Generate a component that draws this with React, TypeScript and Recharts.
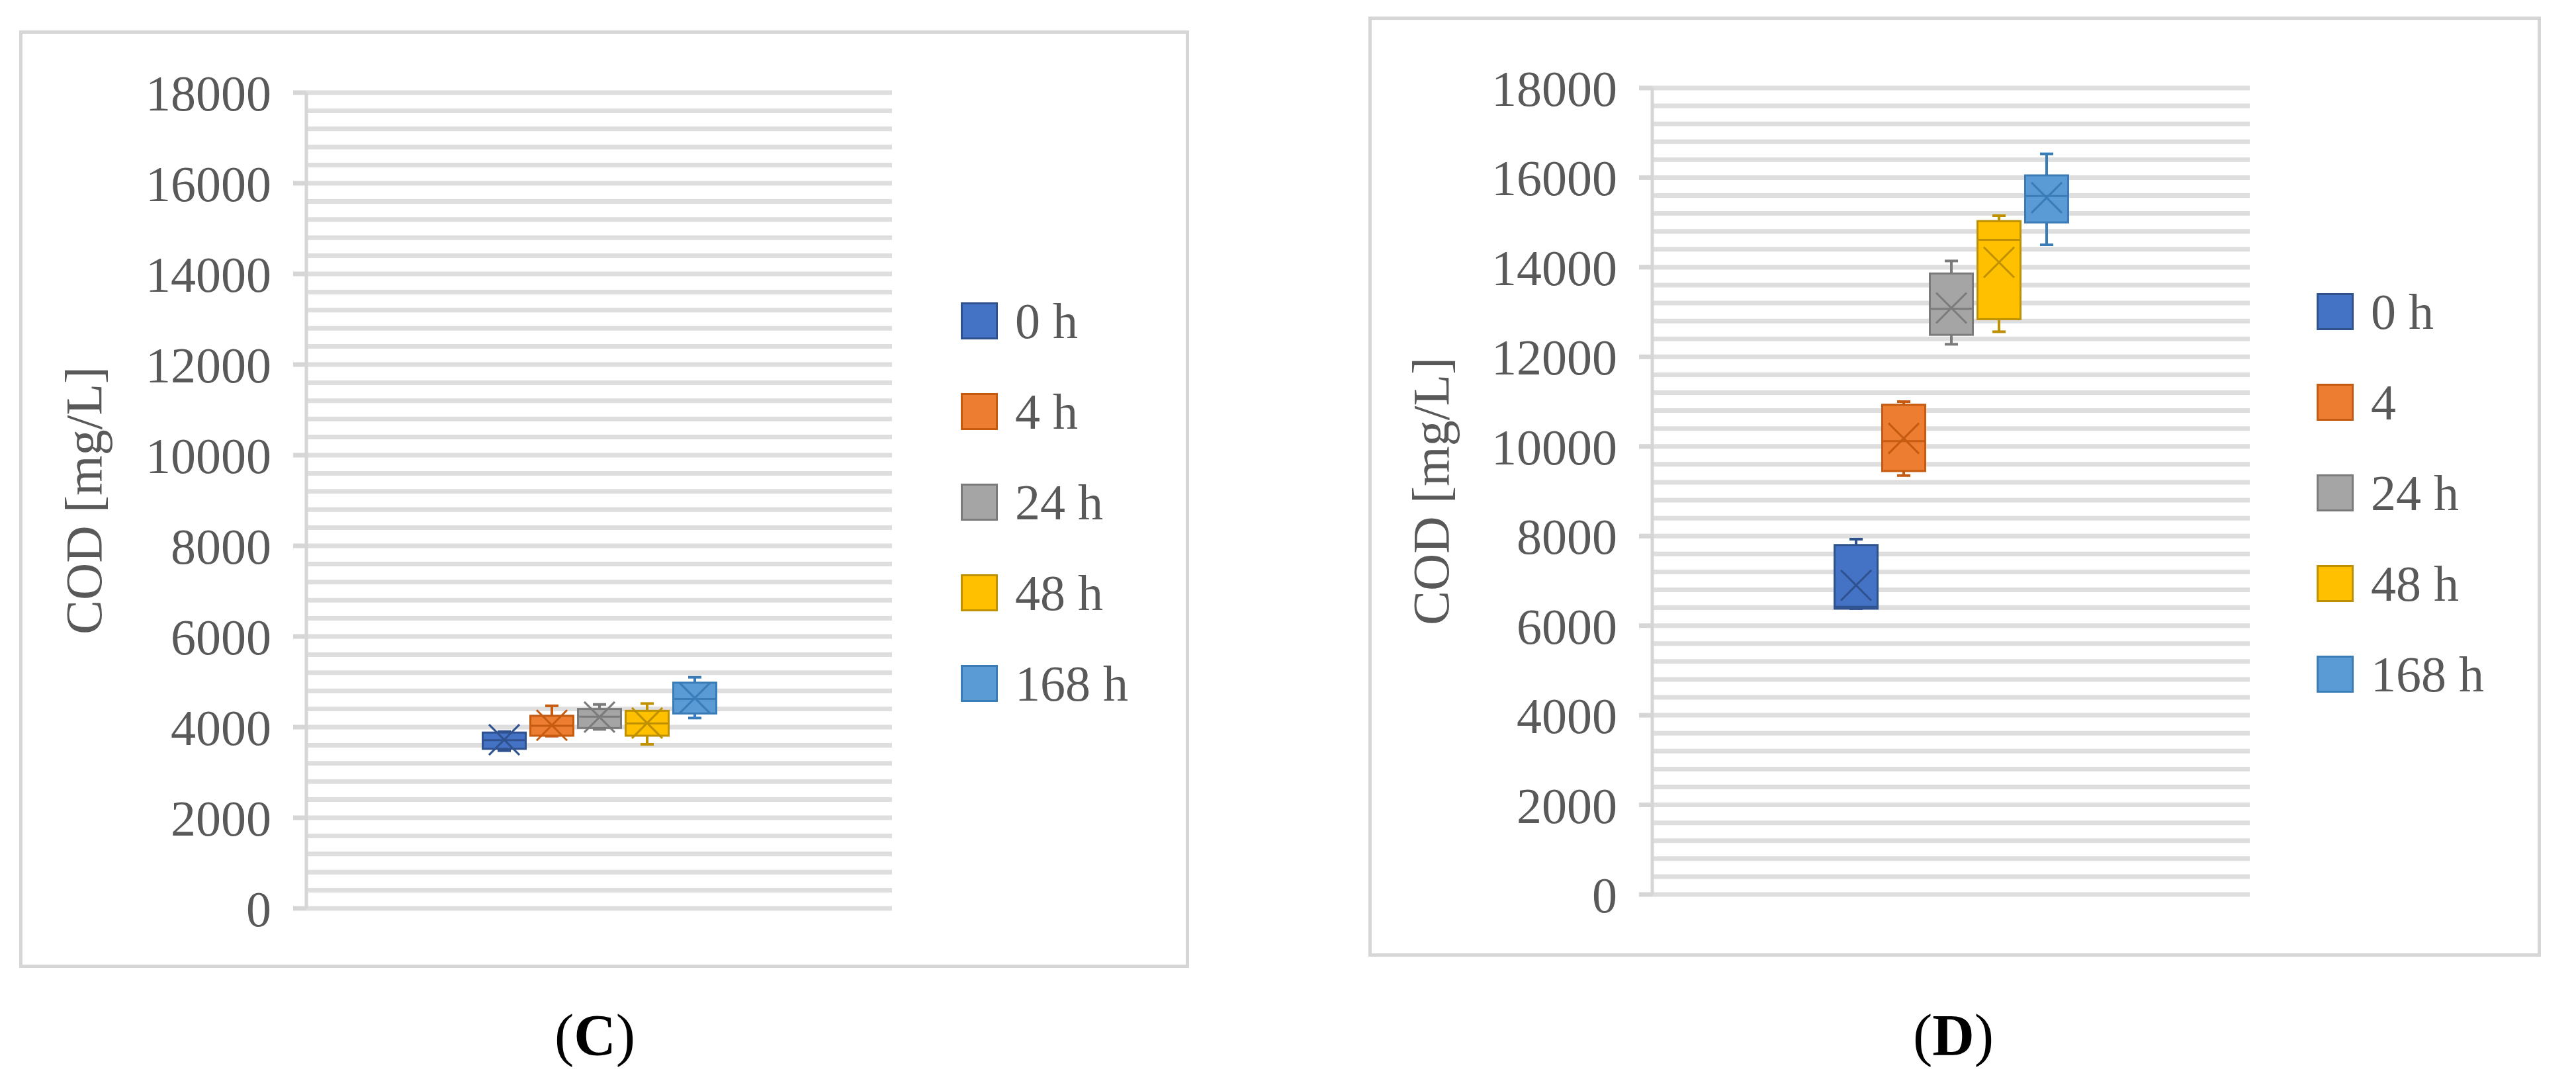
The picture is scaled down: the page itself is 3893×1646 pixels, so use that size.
import React from 'react';
import { ComposedChart, Bar, XAxis, YAxis, CartesianGrid, Legend, Label } from 'recharts';

// series names (panel D writes the second one as plain "4")
const SERIES_C = ['0 h', '4 h', '24 h', '48 h', '168 h'];
const SERIES_D = ['0 h', '4', '24 h', '48 h', '168 h'];

const COLORS = ['#4472C4', '#ED7D31', '#A5A5A5', '#FFC000', '#5B9BD5'];
const EDGES = ['#2F528F', '#C55A11', '#7B7B7B', '#BF9000', '#3A7CB8'];

const Y_LABELS = [0, 2000, 4000, 6000, 8000, 10000, 12000, 14000, 16000, 18000];
const Y_MAX = 18000;
const GRID_STEP = 400;

// panel C box stats
const C_MIN = [3480, 3800, 3950, 3620, 4200];
const C_Q1 = [3520, 3810, 3980, 3810, 4300];
const C_MED = [3710, 4030, 4230, 4080, 4620];
const C_Q3 = [3880, 4250, 4400, 4360, 4980];
const C_MAX = [3900, 4470, 4500, 4520, 5100];
const C_MEAN = [3720, 4040, 4220, 4090, 4640];

// panel D box stats
const D_MIN = [6380, 9350, 12280, 12560, 14500];
const D_Q1 = [6380, 9450, 12490, 12840, 15000];
const D_MED = [6420, 10120, 13070, 14610, 15590];
const D_Q3 = [7800, 10930, 13860, 15030, 16050];
const D_MAX = [7930, 11000, 14140, 15150, 16530];
const D_MEAN = [6900, 10180, 13090, 14110, 15550];

const FONT = '"Liberation Serif", "Times New Roman", serif';
const TEXT = '#595959';
const GRID = '#dedede';
const AXIS = '#d6d6d6';

const gridTicks = Array.from({ length: Y_MAX / GRID_STEP + 1 }, (_, k) => k * GRID_STEP);

type Stats = { min: number[]; q1: number[]; med: number[]; q3: number[]; max: number[]; mean: number[] };

const makeBox = (s: Stats, i: number) => (props: any) => {
  const { x, y, width, height } = props;
  if (x == null || y == null) return null;
  const lo = s.min[i];
  const hi = s.max[i];
  const top = Math.min(y, y + height);
  const h = Math.abs(height);
  const py = (v: number) => top + ((hi - v) / (hi - lo)) * h;
  const cx = x + width / 2;
  const edge = EDGES[i];
  const cap = 10;
  const m = 23;
  const my = py(s.mean[i]);
  return (
    <g>
      <line x1={cx} x2={cx} y1={py(hi)} y2={py(s.q3[i])} stroke={edge} strokeWidth={4} />
      <line x1={cx - cap} x2={cx + cap} y1={py(hi)} y2={py(hi)} stroke={edge} strokeWidth={4} />
      <line x1={cx} x2={cx} y1={py(s.q1[i])} y2={py(lo)} stroke={edge} strokeWidth={4} />
      <line x1={cx - cap} x2={cx + cap} y1={py(lo)} y2={py(lo)} stroke={edge} strokeWidth={4} />
      <rect
        x={x + 1.5}
        y={py(s.q3[i])}
        width={width - 3}
        height={Math.max(py(s.q1[i]) - py(s.q3[i]), 1)}
        fill={COLORS[i]}
        stroke={edge}
        strokeWidth={3}
      />
      <line x1={x + 1.5} x2={x + width - 1.5} y1={py(s.med[i])} y2={py(s.med[i])} stroke={edge} strokeWidth={3} />
      <line x1={cx - m} x2={cx + m} y1={my - m} y2={my + m} stroke={edge} strokeWidth={3} />
      <line x1={cx - m} x2={cx + m} y1={my + m} y2={my - m} stroke={edge} strokeWidth={3} />
    </g>
  );
};

const YTick = (props: any) => {
  const { x, y, payload } = props;
  if (!Y_LABELS.includes(payload.value)) return null;
  return (
    <g>
      <line x1={x - 20} x2={x} y1={y} y2={y} stroke={AXIS} strokeWidth={7} />
      <text x={x - 53} y={y} dy={27} textAnchor="end" fontFamily={FONT} fontSize={76} fill={TEXT}>
        {payload.value}
      </text>
    </g>
  );
};

const LEGEND_W = 320;

interface PanelProps {
  left: number;
  top: number;
  width: number;
  height: number;
  plotLeft: number;
  plotRight: number;
  plotTop: number;
  plotBottom: number;
  legendX: number;
  legendTop: number;
  labelX: number;
  names: string[];
  stats: Stats;
}

const Panel: React.FC<PanelProps> = (p) => {
  const row: any = { group: 'COD' };
  p.names.forEach((_, i) => {
    row[`s${i}`] = [p.stats.min[i], p.stats.max[i]];
  });
  const data = [row];

  const renderLegend = (lp: any) => (
    <div>
      {(lp.payload || []).map((entry: any, i: number) => (
        <div key={entry.value} style={{ height: 137, display: 'flex', alignItems: 'center' }}>
          <div
            style={{
              width: 56,
              height: 56,
              boxSizing: 'border-box',
              background: COLORS[i],
              border: `3px solid ${EDGES[i]}`,
            }}
          />
          <span style={{ marginLeft: 26, fontFamily: FONT, fontSize: 76, color: TEXT, lineHeight: 1 }}>
            {entry.value}
          </span>
        </div>
      ))}
    </div>
  );

  return (
    <div style={{ position: 'absolute', left: p.left, top: p.top, width: p.width, height: p.height }}>
      <div
        style={{
          position: 'absolute',
          inset: 0,
          border: `5px solid ${AXIS}`,
          boxSizing: 'border-box',
          background: '#fff',
        }}
      />
      <div style={{ position: 'absolute', left: 0, top: 0 }}>
        <ComposedChart
          width={p.width}
          height={p.height}
          data={data}
          barGap={4}
          margin={{
            top: p.plotTop,
            left: 0,
            right: p.width - p.plotRight - LEGEND_W,
            bottom: p.height - p.plotBottom,
          }}
        >
          <CartesianGrid vertical={false} stroke={GRID} strokeWidth={7} />
          <XAxis dataKey="group" hide />
          <YAxis
            type="number"
            domain={[0, Y_MAX]}
            ticks={gridTicks}
            interval={0}
            width={p.plotLeft}
            tickSize={0}
            tickMargin={0}
            tickLine={false}
            axisLine={{ stroke: AXIS, strokeWidth: 5 }}
            tick={<YTick />}
          >
            <Label
              content={(lp: any) => {
                const vb = lp.viewBox || {};
                const cy = vb.y + vb.height / 2;
                return (
                  <text
                    x={p.labelX}
                    y={cy}
                    transform={`rotate(-90, ${p.labelX}, ${cy})`}
                    textAnchor="middle"
                    dominantBaseline="central"
                    fontFamily={FONT}
                    fontSize={78}
                    fill={TEXT}
                  >
                    COD [mg/L]
                  </text>
                );
              }}
            />
          </YAxis>
          <Legend
            layout="vertical"
            align="right"
            verticalAlign="top"
            itemSorter="dataKey"
            content={renderLegend}
            wrapperStyle={{ left: p.legendX, top: p.legendTop, width: LEGEND_W }}
          />
          {p.names.map((n, i) => (
            <Bar
              key={n}
              name={n}
              dataKey={`s${i}`}
              fill={COLORS[i]}
              barSize={68}
              isAnimationActive={false}
              shape={makeBox(p.stats, i)}
            />
          ))}
        </ComposedChart>
      </div>
    </div>
  );
};

const captionStyle: React.CSSProperties = {
  position: 'absolute',
  top: 1510,
  width: 400,
  textAlign: 'center',
  fontFamily: FONT,
  fontSize: 88,
  color: '#000',
  lineHeight: '110px',
};

export default function App() {
  const statsC: Stats = { min: C_MIN, q1: C_Q1, med: C_MED, q3: C_Q3, max: C_MAX, mean: C_MEAN };
  const statsD: Stats = { min: D_MIN, q1: D_Q1, med: D_MED, q3: D_Q3, max: D_MAX, mean: D_MEAN };
  return (
    <div style={{ position: 'absolute', left: 0, top: 0, width: 3893, height: 1646, background: '#fff' }}>
      <Panel
        left={29}
        top={46}
        width={1768}
        height={1417}
        plotLeft={434}
        plotRight={1319}
        plotTop={94}
        plotBottom={1327}
        legendX={1423}
        legendTop={370}
        labelX={97}
        names={SERIES_C}
        stats={statsC}
      />
      <Panel
        left={2068}
        top={25}
        width={1772}
        height={1421}
        plotLeft={429}
        plotRight={1332}
        plotTop={108}
        plotBottom={1327}
        legendX={1433}
        legendTop={377}
        labelX={94}
        names={SERIES_D}
        stats={statsD}
      />
      <div style={{ ...captionStyle, left: 899 - 200 }}>
        (<b>C</b>)
      </div>
      <div style={{ ...captionStyle, left: 2952 - 200 }}>
        (<b>D</b>)
      </div>
    </div>
  );
}
